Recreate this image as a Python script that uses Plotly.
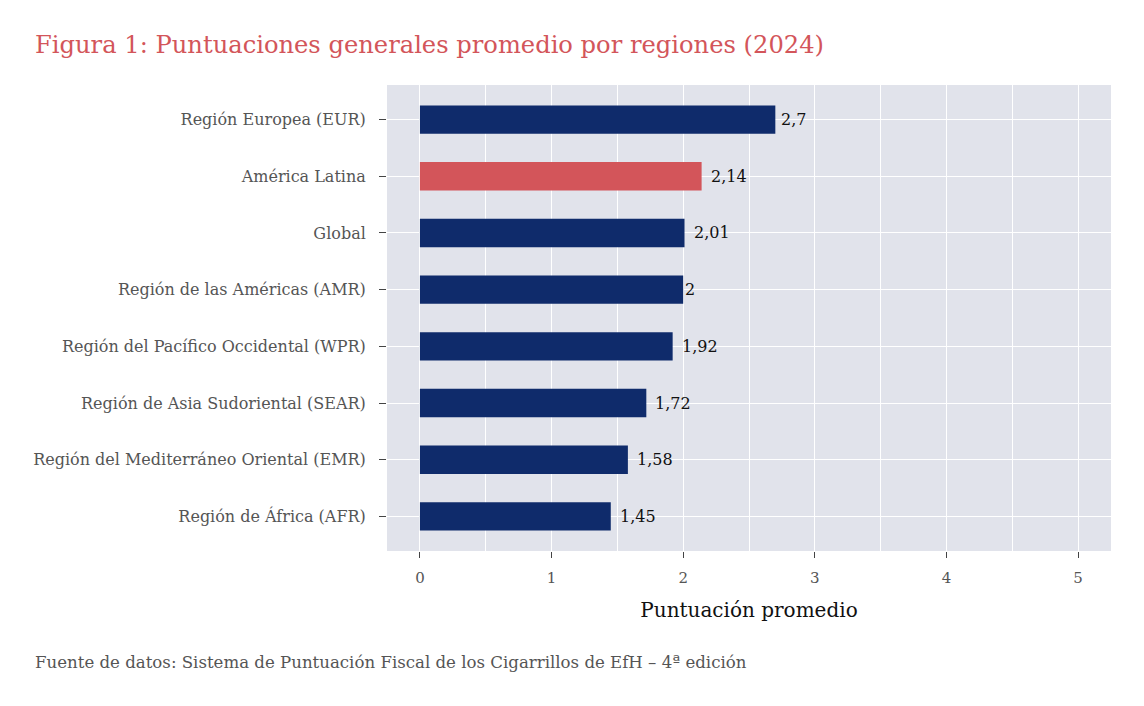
import plotly.graph_objects as go

# data (top to bottom)
regions = [
    "Región Europea (EUR)",
    "América Latina",
    "Global",
    "Región de las Américas (AMR)",
    "Región del Pacífico Occidental (WPR)",
    "Región de Asia Sudoriental (SEAR)",
    "Región del Mediterráneo Oriental (EMR)",
    "Región de África (AFR)",
]
scores = [2.70, 2.14, 2.01, 2.00, 1.92, 1.72, 1.58, 1.45]
highlight = "América Latina"

navy = "#0f2b6b"
red = "#d3555a"
font_name = "DejaVu Serif"

# page body has an 8px margin, so the figure is a bit smaller than the window
W, H = 1128, 690
L, R, T, B = 379, 25, 77, 147

bar_colors = [red if r == highlight else navy for r in regions]
bar_text = [("%g" % v).replace(".", ",") for v in scores]

fig = go.Figure()
fig.add_trace(
    go.Bar(
        x=scores,
        y=regions,
        orientation="h",
        width=0.5,
        marker=dict(color=bar_colors, line=dict(width=0)),
        hoverinfo="skip",
    )
)

# value labels, pushed right by a fraction of their own width (like hjust < 0)
for r, v, t in zip(regions, scores, bar_text):
    est_width = 10 * sum(c.isdigit() for c in t) + 5 * t.count(",")
    fig.add_annotation(
        x=v,
        y=r,
        text=t,
        showarrow=False,
        xanchor="left",
        xshift=round(0.25 * est_width) - 2,
        font=dict(family=font_name, size=16, color="#111111"),
    )

fig.update_layout(
    width=W,
    height=H,
    paper_bgcolor="white",
    plot_bgcolor="#e1e3eb",
    margin=dict(l=L, r=R, t=T, b=B, pad=0),
    showlegend=False,
    font=dict(family=font_name, color="#555555"),
    title=dict(
        text="Figura 1: Puntuaciones generales promedio por regiones (2024)",
        x=27 / W,
        xanchor="left",
        y=1 - 37 / H,
        yanchor="middle",
        font=dict(family=font_name, size=24.2, color="#d3555a"),
    ),
)

fig.update_xaxes(
    range=[-0.25, 5.25],
    dtick=1,
    tick0=0,
    showgrid=True,
    gridcolor="white",
    gridwidth=1.3,
    minor=dict(dtick=0.5, showgrid=True, gridcolor="white", gridwidth=0.6),
    zeroline=False,
    ticks="outside",
    ticklen=6,
    tickwidth=1.4,
    tickcolor="#444444",
    ticklabelstandoff=7,
    tickfont=dict(size=15, color="#555555"),
    title=dict(
        text="Puntuación promedio",
        font=dict(size=20, color="#111111"),
        standoff=16,
    ),
)

fig.update_yaxes(
    range=[7.61, -0.61],
    showgrid=True,
    gridcolor="white",
    gridwidth=1.3,
    ticks="outside",
    ticklen=7,
    tickwidth=1.4,
    tickcolor="#444444",
    ticklabelstandoff=10,
    tickfont=dict(size=16, color="#555555"),
)

fig.add_annotation(
    text="Fuente de datos: Sistema de Puntuación Fiscal de los Cigarrillos de EfH – 4ª edición",
    xref="paper",
    yref="paper",
    x=-(L - 25) / (W - L - R),
    y=-(654 - (H - B)) / (H - T - B),
    xanchor="left",
    yanchor="middle",
    showarrow=False,
    font=dict(family=font_name, size=16.6, color="#555555"),
)

fig.write_html("out.html")
